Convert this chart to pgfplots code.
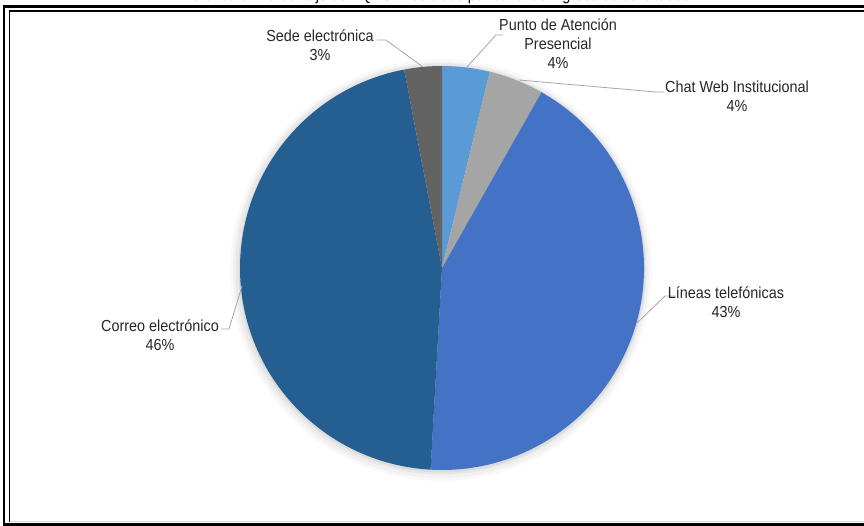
\documentclass[border=0pt]{standalone}
\usepackage{pgfplots}
\pgfplotsset{compat=1.18}
\usepackage{fontspec}
\setmainfont{Liberation Sans}[FakeStretch=0.9]
\definecolor{cPunto}{HTML}{5B9BD5}
\definecolor{cChat}{HTML}{A5A5A5}
\definecolor{cLineas}{HTML}{4472C4}
\definecolor{cCorreo}{HTML}{255E91}
\definecolor{cSede}{HTML}{636363}
\definecolor{cLead}{HTML}{A6A6A6}
% start (cumulative %), end (cumulative %), colour
\newcommand{\pieslice}[3]{%
  \fill[#3] (axis cs:442,268) -- (axis cs:{442+202*sin(3.6*#1)},{268-202*cos(3.6*#1)})
    arc[start angle={90-3.6*#1}, end angle={90-3.6*#2}, radius=202pt] -- cycle;}
\begin{document}
\begin{tikzpicture}
\useasboundingbox (0,0) rectangle (864pt,-526pt);
\clip (0,0) rectangle (864pt,-526pt);
\begin{axis}[at={(-20pt,20pt)}, anchor=north west, scale only axis,
  width=920pt, height=570pt, xmin=-20, xmax=900, ymin=-20, ymax=550,
  y dir=reverse, hide axis, clip=false]
% frame
\draw[line width=2.6pt] (axis cs:880,6.5) -- (axis cs:4,6.5) -- (axis cs:4,524.5) -- (axis cs:880,524.5);
\draw[line width=1.3pt] (axis cs:880,11) -- (axis cs:9.5,11) -- (axis cs:9.5,521.5);
\draw[line width=1pt, black!15] (axis cs:10,521.3) -- (axis cs:880,521.3);
% title (cut at the top)
\node[anchor=base, font=\fontsize{16}{18}\selectfont] at (axis cs:440,0.5) {Gráfica 3. Porcentaje de PQRSD recibidas por canal de ingreso de solicitudes};
% shadow
\fill[black,opacity=0.025] (axis cs:441,270) circle[radius=211pt];
\fill[black,opacity=0.03] (axis cs:441,270) circle[radius=208pt];
\fill[black,opacity=0.04] (axis cs:441,269) circle[radius=205.5pt];
\fill[black,opacity=0.05] (axis cs:442,269) circle[radius=203.5pt];
% slices: Punto 3.8, Chat 4.4, Lineas 42.7, Correo 46.1, Sede 3.0
\pieslice{0}{3.8}{cPunto}
\pieslice{3.8}{8.2}{cChat}
\pieslice{8.2}{50.9}{cLineas}
\pieslice{50.9}{97.0}{cCorreo}
\pieslice{97.0}{100}{cSede}
% leader lines
\draw[cLead, line width=0.8pt] (axis cs:377,40) -- (axis cs:386,40) -- (axis cs:423,67);
\draw[cLead, line width=0.8pt] (axis cs:503,35) -- (axis cs:496,35) -- (axis cs:467,67);
\draw[cLead, line width=0.8pt] (axis cs:519,80) -- (axis cs:656,92) -- (axis cs:664,92);
\draw[cLead, line width=0.8pt] (axis cs:676,296) -- (axis cs:665,296) -- (axis cs:637,323);
\draw[cLead, line width=0.8pt] (axis cs:221,329) -- (axis cs:229,329) -- (axis cs:242,286);
% labels (anchor=base is the baseline of the last line)
\tikzset{lab/.style={align=center, inner sep=0pt, font=\fontsize{16}{19}\selectfont, text=black!85}}
\node[lab, anchor=base] at (axis cs:320,60) {Sede electrónica\\3\%};
\node[lab, anchor=base] at (axis cs:558,68) {Punto de Atención\\Presencial\\4\%};
\node[lab, anchor=base] at (axis cs:737,111) {Chat Web Institucional\\4\%};
\node[lab, anchor=base] at (axis cs:726,317) {Líneas telefónicas\\43\%};
\node[lab, anchor=base] at (axis cs:160,350) {Correo electrónico\\46\%};
\end{axis}
\end{tikzpicture}
\end{document}
